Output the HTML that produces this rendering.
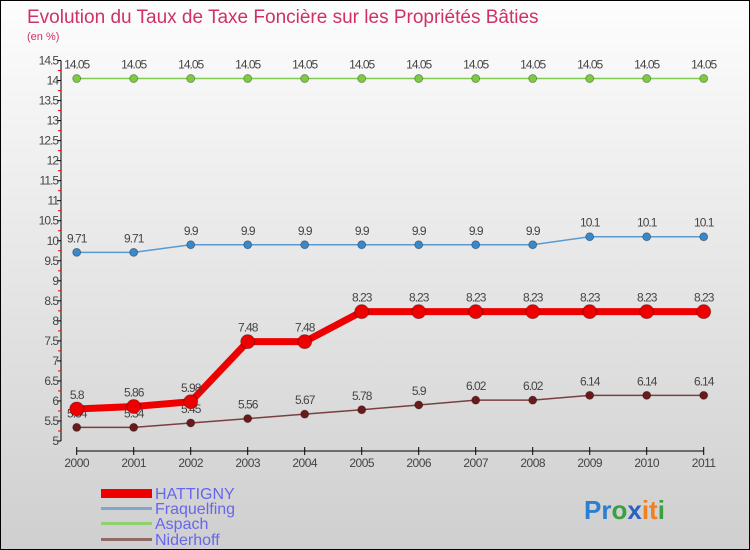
<!DOCTYPE html>
<html><head><meta charset="utf-8"><style>
body{margin:0;}
#c{width:748px;height:548px;border:1px solid #000;background:linear-gradient(#fdfdfd,#cfcfcf);position:relative;font-family:"Liberation Sans","DejaVu Sans",sans-serif;overflow:hidden}
</style></head><body>
<div id="c">
<svg id="s" width="748" height="548" xmlns="http://www.w3.org/2000/svg">
<text x="26" y="22" font-size="19" fill="#d0306a">Evolution du Taux de Taxe Foncière sur les Propriétés Bâties</text>
<text x="26" y="39" font-size="11" fill="#d0306a">(en %)</text>
<g id="g"></g>
<g font-size="16" fill="#6666ee">
<rect x="100" y="488" width="51" height="9" fill="#e00"/>
<text x="154" y="498">HATTIGNY</text>
<rect x="100" y="506" width="51" height="3" fill="#7fa8d0"/>
<text x="154" y="513">Fraquelfing</text>
<rect x="100" y="521" width="51" height="3" fill="#90d070"/>
<text x="154" y="528">Aspach</text>
<rect x="100" y="537" width="51" height="3" fill="#906a68"/>
<text x="154" y="544">Niderhoff</text>
</g>
<text x="583" y="518" font-size="26" font-weight="bold"><tspan fill="#2a7fd0">Pr</tspan><tspan fill="#3aa040">o</tspan><tspan fill="#2a60c0">x</tspan><tspan fill="#f08020">it</tspan><tspan fill="#3aa040">i</tspan></text>
</svg></div>
<script>
const years=["2000","2001","2002","2003","2004","2005","2006","2007","2008","2009","2010","2011"];
const hattigny=[5.8,5.86,5.98,7.48,7.48,8.23,8.23,8.23,8.23,8.23,8.23,8.23];
const fraquelfing=[9.71,9.71,9.9,9.9,9.9,9.9,9.9,9.9,9.9,10.1,10.1,10.1];
const aspach=[14.05,14.05,14.05,14.05,14.05,14.05,14.05,14.05,14.05,14.05,14.05,14.05];
const niderhoff=[5.34,5.34,5.45,5.56,5.67,5.78,5.9,6.02,6.02,6.14,6.14,6.14];
const yTicks=[5,5.5,6,6.5,7,7.5,8,8.5,9,9.5,10,10.5,11,11.5,12,12.5,13,13.5,14,14.5];
const NS="http://www.w3.org/2000/svg";
const g=document.getElementById('g');
const X=i=>75.7+i*57;
const Y=v=>440-(v-5)*40.05;
function mk(t,a){const e=document.createElementNS(NS,t);for(const k in a)e.setAttribute(k,a[k]);g.appendChild(e);return e;}
let e=mk('line',{x1:60,y1:Y(14.5),x2:60,y2:Y(5),stroke:'#000'});


e=mk('line',{x1:X(0),y1:450,x2:X(11),y2:450,stroke:'#000'});


yTicks.forEach((v,i)=>{
 mk('line',{x1:56,y1:Y(v),x2:60,y2:Y(v),stroke:'#000'});
 if(i<yTicks.length-1) mk('line',{x1:57,y1:Y(v+0.25),x2:60,y2:Y(v+0.25),stroke:'#e00'});
 const t=mk('text',{x:57,y:Y(v)+4,'font-size':12,'text-anchor':'end',fill:'#444','letter-spacing':'-1'});
 t.textContent=String(v);
 
 
});
years.forEach((y,i)=>{
 mk('line',{x1:X(i),y1:446,x2:X(i),y2:454,stroke:'#000'});
 const t=mk('text',{x:X(i),y:466,'font-size':12,'text-anchor':'middle',fill:'#444','letter-spacing':'-0.5'});
 t.textContent=y;
 
 
});
function series(d,name,col,w,r,dot){
 const p=mk('polyline',{points:d.map((v,i)=>X(i)+','+Y(v)).join(' '),fill:'none',stroke:col,'stroke-width':w});
 
 
 d.forEach((v,i)=>{
  const c=mk('circle',{cx:X(i),cy:Y(v),r:r,fill:dot,stroke:'rgba(0,0,0,0.3)'});
  
  
  const t=mk('text',{x:X(i),y:Y(v)-10,'font-size':12,'text-anchor':'middle',fill:'#444','letter-spacing':'-1'});
  t.textContent=String(v);
  
  
 });
}
series(aspach,'aspach','#80cc50',1.5,4,'#7ccc40');
series(fraquelfing,'fraquelfing','#5a9ad0',1.5,4,'#3a88c8');
series(niderhoff,'niderhoff','#7a4040',1.5,4,'#6a1a1a');
series(hattigny,'hattigny','#e00',7,7,'#e00');
</script>
</body></html>
